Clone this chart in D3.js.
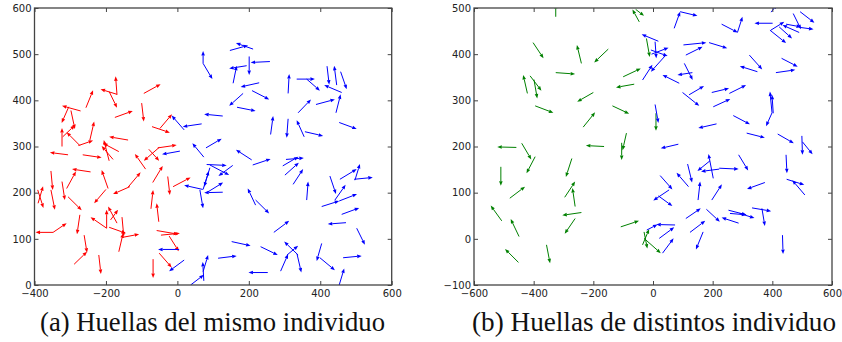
<!DOCTYPE html>
<html>
<head>
<meta charset="utf-8">
<script src="https://cdn.jsdelivr.net/npm/d3@7"></script>
<style>
  body { margin: 0; background: #fff; }
  .tick text { font-family: "DejaVu Sans", sans-serif; font-size: 10px; fill: #222; }
  .caption { font-family: "Liberation Serif", serif; font-size: 27px; fill: #111; }
</style>
</head>
<body>
<svg id="chart" width="842" height="342"></svg>
<script>
// quiver arrows: [x, y, u, v] in data units

// (a) same individual
var sameRed = [
  [-256,384,20,38], [-169,413,-46,11], [-169,412,-4,40], [-191,419,22,-35], [-175,363,50,14],
  [-100,394,6,-40], [-94,415,47,20], [-71,343,50,-13], [-49,339,34,31], [-271,377,-52,11],
  [-304,386,-20,-35], [-298,378,11,-40], [-323,300,0,40], [-273,302,-37,29], [-321,321,34,25],
  [-277,302,41,11], [-245,314,12,40], [-138,314,-53,7], [-55,297,53,6], [-306,282,-51,5],
  [-265,282,53,-6], [-191,269,-15,45], [-164,289,-44,18], [-180,272,-32,29], [-89,251,-30,33],
  [-51,298,-43,-29], [-80,294,29,-25], [-243,245,-52,6], [-310,209,26,37], [-194,209,-18,40],
  [-200,207,-33,-30], [-133,213,-47,-16], [-138,212,35,32], [-69,222,28,36], [-27,235,6,-40],
  [-12,213,49,20], [-354,247,5,-41], [-323,224,8,-40], [-391,206,16,-39], [-390,177,14,37],
  [-354,206,11,-43], [-306,191,38,-29], [-273,152,-8,-42], [-198,123,-45,24], [-198,123,0,40],
  [-169,134,-25,36], [-187,141,21,22], [-191,125,47,-13], [-155,147,5,-42], [-155,103,48,7],
  [-164,72,12,40], [-348,114,-49,0], [-348,114,38,20], [-261,108,8,-38], [-289,45,36,27],
  [-220,65,6,-41], [-74,165,6,41], [-52,137,-6,40], [-58,118,60,-8], [-46,108,53,4],
  [-23,106,27,-33], [-51,69,35,-31], [-68,56,0,-41]
];

var sameBlue = [
  [72,480,0,27], [72,480,26,-34], [68,349,-53,-6], [19,336,-35,31], [74,277,-32,30],
  [147,508,51,11], [212,511,-48,13], [201,495,0,-40], [259,484,-54,-2], [194,475,-49,-6],
  [156,437,10,38], [229,438,-52,-9], [209,421,48,-19], [184,415,-39,-27], [167,385,52,-8],
  [127,366,-52,4], [310,415,3,42], [334,446,51,0], [362,446,37,-25], [419,474,6,-40],
  [446,433,-7,42], [457,462,17,-38], [460,417,-49,16], [388,391,53,11], [444,373,13,40],
  [338,373,36,29], [261,326,7,40], [310,360,-4,-41], [355,321,-21,36], [357,332,51,-9],
  [453,352,49,-14], [80,297,44,20], [7,290,-50,-7], [71,207,-52,9], [72,207,16,40],
  [63,206,9,-40], [5,77,-59,0], [19,54,-42,-24], [37,0,37,22], [74,9,-3,41],
  [208,271,-44,22], [211,260,50,13], [295,258,44,20], [304,272,50,3], [301,238,39,27],
  [324,218,28,33], [82,261,56,-2], [91,260,54,-22], [155,259,-40,-23], [91,254,-16,-41],
  [82,200,46,22], [127,201,-52,-1], [219,173,-22,36], [219,184,38,-29], [362,184,4,40],
  [427,236,17,-39], [441,184,30,33], [455,229,47,22], [497,227,14,35], [495,229,52,4],
  [404,170,49,12], [453,182,50,15], [460,153,49,14], [472,135,-51,-3], [270,114,43,25],
  [502,123,23,-36], [152,94,53,-9], [233,83,48,-18], [338,65,-39,29], [307,65,31,20],
  [289,30,21,37], [335,67,12,-40], [404,90,-14,-38], [399,59,42,-27], [464,59,52,4],
  [453,0,14,36], [253,27,-54,0], [114,58,52,5], [72,29,14,36]
];

// (b) different individuals
var diffGreen = [
  [-326,481,0,28], [-402,425,35,-34], [-240,380,-15,40], [-150,411,-47,-29], [-326,360,65,-3],
  [-421,315,-14,40], [-412,353,38,-32], [-399,345,11,-41], [-200,317,-54,-20], [-395,288,61,-15],
  [-234,242,40,32], [-136,288,56,-17], [-63,335,-61,-7], [-100,351,59,18], [-89,229,-13,-37],
  [-105,208,0,-37], [-458,198,-64,1], [-440,207,32,-35], [-164,200,-61,2], [-46,470,-23,27],
  [-58,497,28,-14], [-22,434,11,-40], [10,272,0,-38], [-395,178,-29,-36], [-510,156,0,-41],
  [-272,174,-20,-40], [-480,88,51,25], [-296,90,35,34], [-261,70,-9,40], [-240,57,-64,-6],
  [-507,39,-37,33], [-449,5,-28,38], [-261,44,-35,-33], [-451,-51,-45,29], [-357,-13,12,-40],
  [-108,26,61,13], [-35,-13,22,34], [-30,15,11,-36], [-30,1,56,-32]
];

var diffBlue = [
  [71,456,20,36], [91,492,58,-9], [230,465,54,-18], [283,447,17,34], [401,467,-61,0],
  [396,491,20,17], [470,488,26,-34], [493,492,48,-24], [490,447,-56,16], [446,465,50,-6],
  [492,458,46,-4], [392,452,54,-28], [395,452,45,18], [423,459,43,-25], [18,428,-56,15],
  [7,427,4,-36], [-7,409,56,-13], [-5,400,57,14], [-35,344,33,33], [43,398,-50,-36],
  [102,420,77,5], [110,398,56,18], [188,425,61,-12], [323,398,43,-31], [350,362,-59,12],
  [431,391,54,-18], [412,360,65,6], [88,337,-56,18], [132,360,-50,-5], [105,380,28,-36],
  [99,317,56,-29], [121,312,50,19], [197,317,58,9], [256,315,56,18], [202,286,57,17],
  [399,273,-7,46], [403,272,-4,40], [399,273,-20,-29], [269,267,56,-19], [213,249,-61,-9],
  [314,229,61,-10], [418,227,54,-20], [499,223,2,-41], [501,210,34,-27], [85,205,-59,-9],
  [7,291,11,-40], [446,182,3,-40], [287,182,32,-34], [202,131,-16,53], [191,169,-42,-22],
  [222,151,-61,-5], [222,153,65,-2], [116,162,15,-40], [119,113,-40,30], [24,137,41,-30],
  [54,106,-53,-23], [18,93,47,-22], [151,84,7,40], [197,84,34,34], [375,122,-60,-14],
  [448,129,59,-12], [509,95,-42,32], [110,44,50,22], [179,64,45,-27], [287,34,-57,12],
  [253,62,60,-10], [258,55,55,-3], [290,55,50,-10], [332,67,64,-7], [365,66,10,-38],
  [-21,19,36,12], [74,30,-63,1], [21,1,50,24], [32,-31,37,32], [124,14,51,25],
  [168,15,-24,-38], [434,8,2,-41]
];

// axis ticks and captions
var sameXTicks = [-400, -200, 0, 200, 400, 600];
var sameYTicks = [0, 100, 200, 300, 400, 500, 600];
var diffXTicks = [-600, -400, -200, 0, 200, 400, 600];
var diffYTicks = [-100, 0, 100, 200, 300, 400, 500];
var captions = ["(a) Huellas del mismo individuo", "(b) Huellas de distintos individuo"];

var svg = d3.select("#chart");

var panels = [
  { id: "a", left: 34.5, right: 391.7, top: 8, bottom: 285,
    xDomain: [-400, 600], yDomain: [0, 600], xTicks: sameXTicks, yTicks: sameYTicks,
    series: [{ data: sameRed, color: "#ff0000" }, { data: sameBlue, color: "#0000ff" }],
    caption: captions[0], capX: 40, capW: 345 },
  { id: "b", left: 474, right: 832, top: 8, bottom: 285,
    xDomain: [-600, 600], yDomain: [-100, 500], xTicks: diffXTicks, yTicks: diffYTicks,
    series: [{ data: diffGreen, color: "#008000" }, { data: diffBlue, color: "#0000ff" }],
    caption: captions[1], capX: 472, capW: 364 }
];

panels.forEach(drawPanel);

function drawPanel(p) {
  var x = d3.scaleLinear().domain(p.xDomain).range([p.left, p.right]);
  var y = d3.scaleLinear().domain(p.yDomain).range([p.bottom, p.top]);
  var g = svg.append("g");

  g.append("clipPath").attr("id", "clip-" + p.id).append("rect")
    .attr("x", p.left).attr("y", p.top)
    .attr("width", p.right - p.left).attr("height", p.bottom - p.top);

  var plot = g.append("g").attr("clip-path", "url(#clip-" + p.id + ")");

  p.series.forEach(function(s) {
    var arrows = plot.append("g").selectAll("g")
      .data(s.data)
      .enter().append("g");

    // shaft stops at the base of the head
    arrows.append("line")
      .attr("x1", function(d) { return x(d[0]); })
      .attr("y1", function(d) { return y(d[1]); })
      .attr("x2", function(d) { return headGeom(d).bx; })
      .attr("y2", function(d) { return headGeom(d).by; })
      .attr("stroke", s.color)
      .attr("stroke-width", 1);

    arrows.append("path")
      .attr("d", function(d) {
        var h = headGeom(d);
        return "M" + h.tx + "," + h.ty + "L" + h.lx + "," + h.ly + "L" + h.rx + "," + h.ry + "Z";
      })
      .attr("fill", s.color);
  });

  function headGeom(d) {
    var x0 = x(d[0]), y0 = y(d[1]);
    var x1 = x(d[0] + d[2]), y1 = y(d[1] + d[3]);
    var dx = x1 - x0, dy = y1 - y0;
    var len = Math.sqrt(dx * dx + dy * dy) || 1;
    var ux = dx / len, uy = dy / len;
    var hl = 4.5, hw = 1.8;
    var bx = x1 - ux * hl, by = y1 - uy * hl;
    return {
      tx: x1, ty: y1, bx: bx, by: by,
      lx: bx - uy * hw, ly: by + ux * hw,
      rx: bx + uy * hw, ry: by - ux * hw
    };
  }

  // axes, ticks pointing inward on all four sides
  var axColor = "#444";
  var bottom = g.append("g").attr("transform", "translate(0," + p.bottom + ")")
    .call(d3.axisBottom(x).tickValues(p.xTicks).tickSizeInner(-4).tickSizeOuter(0).tickPadding(5));
  var left = g.append("g").attr("transform", "translate(" + p.left + ",0)")
    .call(d3.axisLeft(y).tickValues(p.yTicks).tickSizeInner(-4).tickSizeOuter(0).tickPadding(3));
  var top = g.append("g").attr("transform", "translate(0," + p.top + ")")
    .call(d3.axisTop(x).tickValues(p.xTicks).tickSizeInner(-4).tickSizeOuter(0).tickFormat(""));
  var right = g.append("g").attr("transform", "translate(" + p.right + ",0)")
    .call(d3.axisRight(y).tickValues(p.yTicks).tickSizeInner(-4).tickSizeOuter(0).tickFormat(""));

  [bottom, left, top, right].forEach(function(a) {
    a.select(".domain").remove();
    a.selectAll(".tick line").attr("stroke", axColor).attr("stroke-width", 1);
    a.selectAll(".tick text").attr("font-family", null).attr("font-size", null);
  });

  g.append("rect")
    .attr("x", p.left).attr("y", p.top)
    .attr("width", p.right - p.left).attr("height", p.bottom - p.top)
    .attr("fill", "none").attr("stroke", axColor).attr("stroke-width", 1.3);

  g.append("text")
    .attr("class", "caption")
    .attr("x", p.capX).attr("y", 331)
    .attr("textLength", p.capW)
    .attr("lengthAdjust", "spacingAndGlyphs")
    .text(p.caption);
}
</script>
</body>
</html>
